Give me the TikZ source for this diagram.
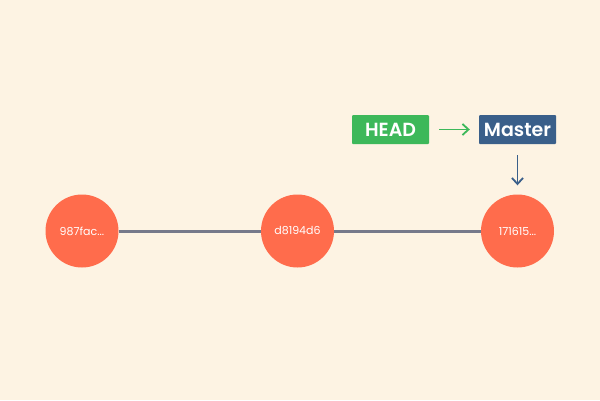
\documentclass[tikz,border=0pt]{standalone}
\usepackage{fontspec}
\setmainfont{Poppins}
\newfontfamily\refface{Poppins SemiBold}
\usetikzlibrary{arrows.meta}
\begin{document}
\begin{tikzpicture}[x=1pt,y=1pt,yscale=-1,
	commit/.style={circle,fill={rgb,255:red,255;green,108;blue,76},draw=none,minimum size=73pt,inner sep=0pt,text=white,font=\fontsize{11}{13}\selectfont},
	ref/.style={rectangle,rounded corners=1pt,minimum width=77pt,minimum height=29pt,inner sep=0pt,text=white,font=\fontsize{19}{22}\refface},
	pointer/.style={line width=1.8pt,-{Straight Barb[length=6pt,width=11pt,line width=1.8pt]}}]
	%uncomment if require: \path (0,400); %diagram is 600 by 400
	\fill [color={rgb, 255:red, 253; green, 243; blue, 227 }] (0,0) rectangle (600,400) ;
	
	%Shape: Circle [commits]
	\node [commit] (c987) at (82,231) {987fac...};
	\node [commit] (cd81) at (297.5,231) {d8194d6};
	\node [commit] (c171) at (517.5,231) {171615...};
	%Straight Lines [history]
	\draw [color={rgb, 255:red, 118; green, 121; blue, 138 }, line width=3pt] (c987) -- (cd81) ;
	\draw [color={rgb, 255:red, 118; green, 121; blue, 138 }, line width=3pt] (cd81) -- (c171) ;
	
	% Text Node
	\node [ref, fill={rgb, 255:red, 61; green, 184; blue, 90 }] (head) at (390.5,129.5) {HEAD};
	% Text Node
	\node [ref, fill={rgb, 255:red, 58; green, 95; blue, 138 }] (master) at (517.5,129.5) {Master};
	
	%Straight Lines [head to master]
	\draw [pointer, color={rgb, 255:red, 61; green, 184; blue, 90 }, shorten <=10pt, shorten >=9pt] (head) -- (master) ;
	%Straight Lines [master to commit]
	\draw [pointer, color={rgb, 255:red, 58; green, 95; blue, 138 }, shorten <=11pt, shorten >=9pt] (master) -- (c171) ;
\end{tikzpicture}
\end{document}
